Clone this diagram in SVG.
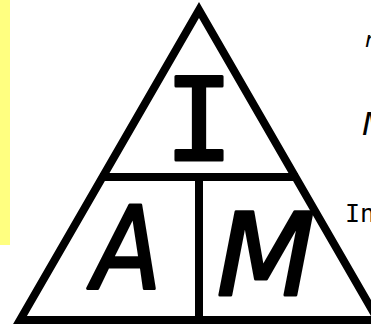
<svg xmlns="http://www.w3.org/2000/svg" width="371" height="327" viewBox="0 0 371 327">
<style>
.ln{stroke:#000;stroke-width:8;fill:none;stroke-linecap:butt}
.big{font-family:"DejaVu Sans",sans-serif;font-size:114px;fill:#000;stroke:#000;stroke-width:3;stroke-linejoin:round;stroke-linecap:round}
.side{font-family:"DejaVu Sans",sans-serif;fill:#000}
</style>
<rect x="0" y="0" width="10" height="245" fill="#ffff80"/>
<g id="connectors">
<polygon class="ln" points="199,10 20,320 378,320" stroke-linejoin="miter"/>
<line class="ln" x1="100" y1="177" x2="298" y2="177"/>
<line class="ln" x1="199" y1="177" x2="199" y2="320"/>
</g>
<g id="node-I">
<text x="199" y="160" text-anchor="middle" style="font-family:'DejaVu Sans Mono',monospace;font-size:114px;fill:#000;stroke:#000;stroke-width:3;stroke-linejoin:round">I</text>
</g>
<g id="node-A">
<text class="big" x="127" y="288" text-anchor="middle" font-style="italic" transform="translate(127,0) scale(0.88,1) translate(-127,0)">A</text>
</g>
<g id="node-M">
<text class="big" x="266" y="295" text-anchor="middle" font-style="italic">M</text>
</g>
<g id="side-text">
<text class="side" x="365" y="47" font-size="22" font-style="italic">n</text>
<text class="side" x="362" y="135" font-size="32" font-style="italic">M</text>
<text x="345" y="222" style="font-family:'DejaVu Sans Mono',monospace;font-size:25px;fill:#000">In</text>
</g>
</svg>
